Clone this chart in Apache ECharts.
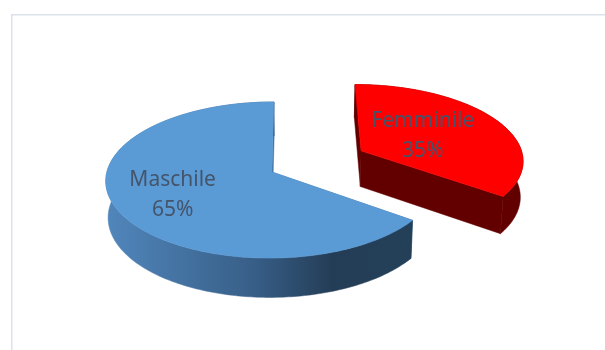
<!DOCTYPE html>
<html>
<head>
<meta charset="utf-8">
<script src="https://cdn.jsdelivr.net/npm/echarts@6/dist/echarts.min.js"></script>
<style>
  html, body { margin: 0; padding: 0; background: #ffffff; }
  #chart { width: 605px; height: 350px; }
</style>
</head>
<body>
<div id="chart"></div>
<script>
// Gender split
const categories = ['Femminile', 'Maschile'];
const values = [35, 65];

// Per-slice presentation
const explodeBy = [0.62, 0];          // radial pull-out, in pie radii
const labelRadius = [0.45, 0.65];     // label anchor, in pie radii
const topColors = ['#ff0000', '#5b9bd5'];
const faceColors = ['#620000', '#3f6d9c'];
const wallColors = [
  '#620000',
  {
    type: 'linear', global: true, x: 100, y: 0, x2: 410, y2: 0,
    colorStops: [
      { offset: 0, color: '#5288be' },
      { offset: 0.5, color: '#375e87' },
      { offset: 0.75, color: '#243d56' },
      { offset: 1, color: '#244059' }
    ]
  }
];

// Perspective view of a unit-radius disc lying flat (X right, Y toward viewer, Z up)
const VIEW = {
  sx: 294, sy: 172,      // screen point the camera aims at
  kx: 165, ky: 172,      // pixels per radius
  sin: 0.449, cos: 0.893,// camera elevation
  dist: 8.7,             // camera distance, in radii
  xc: 0.134,             // camera aim offset along X
  height: 0.24           // slab thickness, in radii
};

function project(X, Y, Z) {
  const dep = VIEW.dist - Y * VIEW.cos - Z * VIEW.sin;
  const f = VIEW.dist / dep;
  return [
    VIEW.sx + VIEW.kx * (X - VIEW.xc) * f,
    VIEW.sy + VIEW.ky * (Y * VIEW.sin - Z * VIEW.cos) * f
  ];
}

const total = values.reduce((a, b) => a + b, 0);

function renderSlice(params, api) {
  const i = params.dataIndex;
  const v = api.value(0);
  let startDeg = 0;
  for (let j = 0; j < i; j++) startDeg += values[j] / total * 360;
  const endDeg = startDeg + v / total * 360;
  const midRad = (startDeg + endDeg) / 2 * Math.PI / 180;
  const ox = explodeBy[i] * Math.sin(midRad);
  const oy = -explodeBy[i] * Math.cos(midRad);
  const h = VIEW.height;

  // angle measured clockwise from 12 o'clock
  const pt = (deg, r, z) => {
    const a = deg * Math.PI / 180;
    return project(ox + r * Math.sin(a), oy - r * Math.cos(a), z);
  };
  const arc = (z) => {
    const pts = [];
    const n = Math.max(2, Math.ceil(endDeg - startDeg));
    for (let k = 0; k <= n; k++) pts.push(pt(startDeg + (endDeg - startDeg) * k / n, 1, z));
    return pts;
  };

  const topArc = arc(0);
  const botArc = arc(-h);
  const cTop = pt(0, 0, 0);
  const cBot = pt(0, 0, -h);

  const radialFace = (deg) => ({
    type: 'polygon',
    shape: { points: [cTop, pt(deg, 1, 0), pt(deg, 1, -h), cBot] },
    style: { fill: faceColors[i], stroke: faceColors[i], lineWidth: 0.5 }
  });

  const wall = {
    type: 'polygon',
    shape: { points: topArc.concat(botArc.slice().reverse()) },
    style: { fill: wallColors[i], stroke: wallColors[i], lineWidth: 0.5 }
  };

  const top = {
    type: 'polygon',
    shape: { points: [cTop].concat(topArc) },
    style: { fill: topColors[i], stroke: topColors[i], lineWidth: 0.6 }
  };

  const lp = pt((startDeg + endDeg) / 2, labelRadius[i], 0);
  const label = {
    type: 'text',
    x: lp[0], y: lp[1],
    style: {
      text: categories[i] + '\n' + Math.round(v / total * 100) + '%',
      fill: '#44546a',
      font: '21px "Noto Sans", "Open Sans", sans-serif',
      lineHeight: 30,
      align: 'center',
      verticalAlign: 'middle'
    }
  };

  return {
    type: 'group',
    children: [radialFace(startDeg), radialFace(endDeg), wall, top, label]
  };
}

const chart = echarts.init(document.getElementById('chart'), null, { renderer: 'canvas' });
chart.setOption({
  animation: false,
  backgroundColor: '#ffffff',
  graphic: [{
    type: 'rect',
    silent: true,
    shape: { x: 11.75, y: 14.75, width: 800, height: 500 },
    style: { fill: 'none', stroke: '#dce2ea', lineWidth: 1.5 }
  }],
  series: [{
    type: 'custom',
    coordinateSystem: 'none',
    renderItem: renderSlice,
    data: values.map((v, i) => ({ name: categories[i], value: [v] }))
  }]
});
</script>
</body>
</html>
